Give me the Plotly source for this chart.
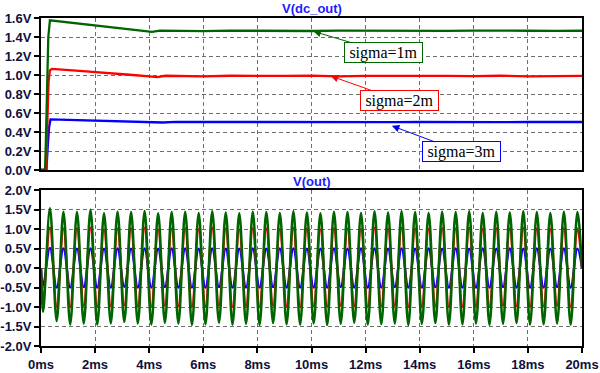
import plotly.graph_objects as go

# ---------------- data: top panel V(dc_out) ----------------
t_dc_green = [0, 0.15, 0.18, 0.22, 0.27, 0.33, 0.95, 2.2, 3.4, 4.1, 4.4, 5, 6, 7, 8, 9, 10, 11, 12, 13, 14, 15, 16, 17, 18, 19, 20]
v_dc_green = [0, 0, 0.3, 0.95, 1.4, 1.575, 1.556, 1.52, 1.476, 1.455, 1.468, 1.465, 1.462, 1.467, 1.464, 1.466, 1.463, 1.467, 1.465, 1.462, 1.466, 1.464, 1.467, 1.463, 1.466, 1.464, 1.466]

t_dc_red = [0, 0.2, 0.24, 0.28, 0.33, 0.4, 1.3, 2.2, 3.4, 4.0, 4.3, 4.6, 5, 6, 7, 8, 9, 10, 11, 12, 13, 14, 15, 16, 17, 18, 19, 20]
v_dc_red = [0, 0, 0.55, 0.93, 1.05, 1.065, 1.045, 1.028, 1.0, 0.985, 0.978, 0.992, 0.99, 0.985, 0.992, 0.988, 0.99, 0.993, 0.986, 0.99, 0.992, 0.987, 0.991, 0.988, 0.992, 0.986, 0.99, 0.99]

t_dc_blue = [0, 0.2, 0.25, 0.3, 0.35, 1.5, 2.5, 3.5, 4.5, 5, 6, 7, 8, 9, 10, 11, 12, 13, 14, 15, 16, 17, 18, 19, 20]
v_dc_blue = [0, 0, 0.25, 0.45, 0.532, 0.525, 0.515, 0.508, 0.5, 0.506, 0.505, 0.503, 0.507, 0.504, 0.505, 0.502, 0.506, 0.504, 0.505, 0.503, 0.506, 0.504, 0.505, 0.503, 0.505]

# ---------------- data: bottom panel V(out) (extremes of each cycle) ----------------
t_start, t_end = 0.0, 20.0
t_trough = [0.08, 0.58, 1.08, 1.58, 2.08, 2.58, 3.08, 3.58, 4.08, 4.58,
            5.08, 5.58, 6.08, 6.58, 7.08, 7.58, 8.08, 8.58, 9.08, 9.58,
            10.08, 10.58, 11.08, 11.58, 12.08, 12.58, 13.08, 13.58, 14.08, 14.58,
            15.08, 15.58, 16.08, 16.58, 17.08, 17.58, 18.08, 18.58, 19.08, 19.58]
t_peak = [0.33, 0.83, 1.33, 1.83, 2.33, 2.83, 3.33, 3.83, 4.33, 4.83,
          5.33, 5.83, 6.33, 6.83, 7.33, 7.83, 8.33, 8.83, 9.33, 9.83,
          10.33, 10.83, 11.33, 11.83, 12.33, 12.83, 13.33, 13.83, 14.33, 14.83,
          15.33, 15.83, 16.33, 16.83, 17.33, 17.83, 18.33, 18.83, 19.33, 19.83]

green_trough = [-1.12, -1.36, -1.45, -1.42, -1.45, -1.42, -1.38, -1.42, -1.45, -1.40,
                -1.42, -1.46, -1.44, -1.40, -1.45, -1.43, -1.46, -1.41, -1.44, -1.45,
                -1.42, -1.46, -1.43, -1.40, -1.45, -1.44, -1.42, -1.46, -1.43, -1.41,
                -1.45, -1.44, -1.42, -1.46, -1.43, -1.41, -1.45, -1.44, -1.42, -1.45]
green_peak = [1.54, 1.45, 1.44, 1.50, 1.41, 1.45, 1.44, 1.47, 1.41, 1.44,
              1.45, 1.42, 1.46, 1.43, 1.41, 1.45, 1.44, 1.42, 1.46, 1.43,
              1.41, 1.45, 1.44, 1.42, 1.46, 1.43, 1.46, 1.44, 1.42, 1.45,
              1.44, 1.46, 1.42, 1.45, 1.43, 1.46, 1.44, 1.42, 1.45, 1.44]
red_trough = [-0.85, -0.98, -1.0, -0.97, -1.0, -0.98, -0.96, -0.99, -1.0, -0.97,
              -0.98, -1.0, -0.99, -0.97, -1.0, -0.98, -1.0, -0.97, -0.99, -1.0,
              -0.98, -1.0, -0.97, -0.98, -1.0, -0.99, -0.97, -1.0, -0.98, -0.97,
              -1.0, -0.99, -0.98, -1.0, -0.97, -0.98, -1.0, -0.99, -0.97, -1.0]
red_peak = [1.05, 1.02, 1.03, 1.04, 1.0, 1.02, 1.03, 1.04, 1.0, 1.02,
            1.03, 1.01, 1.04, 1.02, 1.0, 1.03, 1.02, 1.01, 1.04, 1.02,
            1.0, 1.03, 1.02, 1.01, 1.04, 1.02, 1.04, 1.02, 1.01, 1.03,
            1.02, 1.04, 1.01, 1.03, 1.02, 1.04, 1.02, 1.01, 1.03, 1.02]
blue_trough = [-0.45, -0.5, -0.5, -0.49, -0.5, -0.5, -0.48, -0.5, -0.5, -0.49,
               -0.5, -0.5, -0.5, -0.49, -0.5, -0.5, -0.5, -0.49, -0.5, -0.5,
               -0.5, -0.5, -0.49, -0.5, -0.5, -0.5, -0.49, -0.5, -0.5, -0.49,
               -0.5, -0.5, -0.5, -0.5, -0.49, -0.5, -0.5, -0.5, -0.49, -0.5]
blue_peak = [0.52, 0.51, 0.5, 0.51, 0.5, 0.51, 0.5, 0.51, 0.5, 0.51,
             0.51, 0.5, 0.51, 0.5, 0.5, 0.51, 0.5, 0.51, 0.51, 0.5,
             0.5, 0.51, 0.5, 0.51, 0.51, 0.5, 0.51, 0.5, 0.51, 0.5,
             0.51, 0.5, 0.51, 0.5, 0.51, 0.5, 0.51, 0.5, 0.51, 0.5]
v_start = [0.0, 0.0, 0.0]      # green, red, blue at 0 ms
v_end = [0.0, 0.0, 0.0]        # green, red, blue at 20 ms

# ---------------- tick labels ----------------
x_tickvals = [0, 2, 4, 6, 8, 10, 12, 14, 16, 18, 20]
x_ticktext = ["0ms", "2ms", "4ms", "6ms", "8ms", "10ms", "12ms", "14ms", "16ms", "18ms", "20ms"]
y1_tickvals = [0.0, 0.2, 0.4, 0.6, 0.8, 1.0, 1.2, 1.4, 1.6]
y1_ticktext = ["0.0V", "0.2V", "0.4V", "0.6V", "0.8V", "1.0V", "1.2V", "1.4V", "1.6V"]
y2_tickvals = [-2.0, -1.5, -1.0, -0.5, 0.0, 0.5, 1.0, 1.5, 2.0]
y2_ticktext = ["-2.0V", "-1.5V", "-1.0V", "-0.5V", "0.0V", "0.5V", "1.0V", "1.5V", "2.0V"]

labels = ["sigma=1m", "sigma=2m", "sigma=3m"]

GREEN = "#006400"
RED = "#ff0000"
BLUE = "#0000ff"


def interleave(troughs, peaks, tt, tp, v0, v1):
    t = [t_start]
    v = [v0]
    for a, b, c, d in zip(tt, troughs, tp, peaks):
        t += [a, c]
        v += [b, d]
    t.append(t_end)
    v.append(v1)
    return t, v


fig = go.Figure()

# top panel
for tt, vv, col in [(t_dc_blue, v_dc_blue, BLUE), (t_dc_red, v_dc_red, RED), (t_dc_green, v_dc_green, GREEN)]:
    fig.add_trace(go.Scatter(x=tt, y=vv, mode="lines", line=dict(color=col, width=2.3),
                             xaxis="x", yaxis="y", showlegend=False, hoverinfo="skip"))

# bottom panel
series = [(blue_trough, blue_peak, BLUE, 2, 2.2), (red_trough, red_peak, RED, 1, 2.2),
          (green_trough, green_peak, GREEN, 0, 2.5)]
for tr, pk, col, idx, w in series:
    t, v = interleave(tr, pk, t_trough, t_peak, v_start[idx], v_end[idx])
    fig.add_trace(go.Scatter(x=t, y=v, mode="lines", line=dict(color=col, width=w, shape="spline"),
                             xaxis="x2", yaxis="y2", showlegend=False, hoverinfo="skip"))

tickfont = dict(family="Liberation Sans, Arial", size=13, color="#10103c", weight="bold")
grid = dict(showgrid=True, gridcolor="#6e6e6e", gridwidth=1, griddash="4px,3px")
frame = dict(showline=True, linecolor="black", linewidth=2, mirror=True, zeroline=False,
             automargin=False)

fig.update_layout(
    width=600, height=373,
    margin=dict(l=41, r=18, t=18, b=27),
    paper_bgcolor="white", plot_bgcolor="white",
    xaxis=dict(domain=[0, 1], range=[0, 20], anchor="y", tickvals=x_tickvals,
               showticklabels=False, ticks="", **grid, **frame),
    yaxis=dict(domain=[0.5366, 1], range=[0, 1.6], anchor="x", tickvals=y1_tickvals,
               ticktext=y1_ticktext, ticks="outside", ticklen=5, tickwidth=2, tickcolor="black",
               tickfont=tickfont, **grid, **frame),
    xaxis2=dict(domain=[0, 1], range=[0, 20], anchor="y2", tickvals=x_tickvals,
                ticktext=x_ticktext, ticks="outside", ticklen=5, tickwidth=2, tickcolor="black",
                tickfont=tickfont, **grid, **frame),
    yaxis2=dict(domain=[0, 0.4747], range=[-2, 2], anchor="x2", tickvals=y2_tickvals,
                ticktext=y2_ticktext, ticks="outside", ticklen=5, tickwidth=2, tickcolor="black",
                tickfont=tickfont, **grid, **frame),
)

title_font = dict(family="Liberation Sans, Arial", size=13, color="#1c1cff", weight="bold")
fig.add_annotation(text="V(dc_out)", xref="paper", yref="paper", x=0.5, y=1.03,
                   showarrow=False, font=title_font, yanchor="middle")
fig.add_annotation(text="V(out)", xref="paper", yref="paper", x=0.5, y=0.503,
                   showarrow=False, font=title_font, yanchor="middle")

# labels with arrows
ann = [(labels[0], 10.07, 1.46, 70, 21, GREEN),
       (labels[1], 10.71, 0.99, 69, 24.5, RED),
       (labels[2], 12.97, 0.465, 69.5, 26, BLUE)]
for txt, x, y, ax, ay, col in ann:
    fig.add_annotation(text=txt, x=x, y=y, xref="x", yref="y", ax=ax, ay=ay,
                       showarrow=True, arrowhead=2, arrowsize=1.5, arrowwidth=1, arrowcolor=col,
                       font=dict(family="Liberation Serif, Times New Roman", size=16, color="black"),
                       bgcolor="white", bordercolor=col, borderwidth=1, borderpad=0,
                       width=77, height=19)

fig.write_html("out.html", config={"displayModeBar": False},
               post_script="document.body.style.margin='0px';")
